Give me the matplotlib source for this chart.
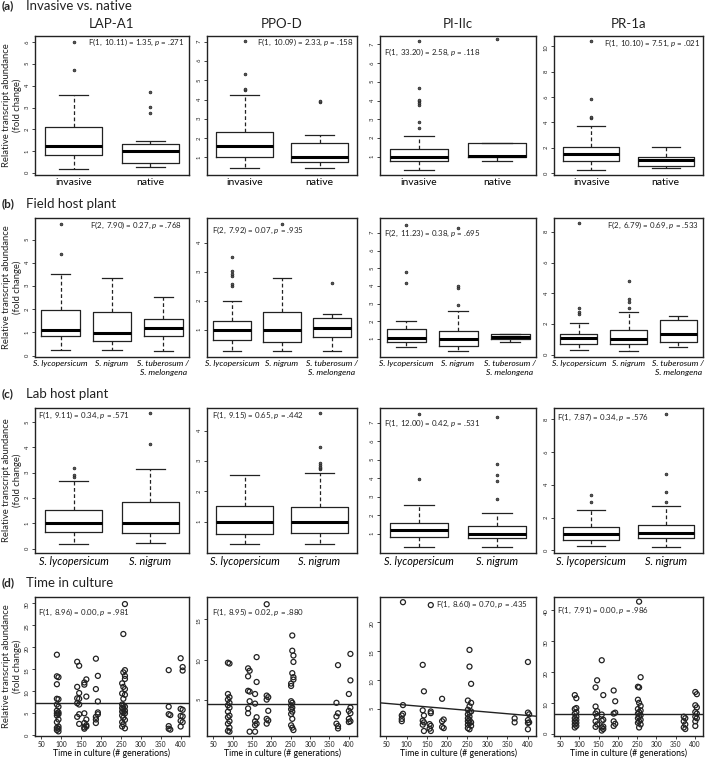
"""
Transcript abundance of four defence genes: box plots per group and
scatter against time in culture.
"""

import matplotlib
matplotlib.use('Agg')
import matplotlib.pyplot as plt

plt.rcParams['font.family'] = ['Lato', 'DejaVu Sans']
plt.rcParams['mathtext.fontset'] = 'custom'
plt.rcParams['mathtext.rm'] = 'Lato'
plt.rcParams['mathtext.it'] = 'Lato:italic'

W, H = 709, 758

genes = ['LAP-A1', 'PPO-D', 'PI-IIc', 'PR-1a']

# box stats per group: whisker low, q1, median, q3, whisker high
a_groups = ['invasive', 'native']
a_boxes = [
    [[0.18, 0.82, 1.25, 2.10, 3.57], [0.26, 0.44, 0.99, 1.35, 1.47]],
    [[0.43, 1.03, 1.57, 2.34, 4.22], [0.43, 0.74, 1.02, 1.77, 2.17]],
    [[0.27, 0.76, 1.00, 1.42, 2.09], [0.78, 0.96, 1.05, 1.73, 1.73]],
    [[0.26, 0.97, 1.50, 2.10, 3.76], [0.40, 0.60, 1.05, 1.32, 2.08]],
]
a_out = [
    [[4.71, 6.03], [2.74, 3.02, 3.72]],
    [[4.48, 4.57, 5.34, 7.02], [3.85, 3.9]],
    [[2.51, 2.87, 3.76, 3.85, 3.95, 4.04, 4.69, 7.18], [7.29]],
    [[4.35, 4.45, 5.87, 10.42], []],
]
a_stats = [('1, 10.11', '1.35', '.271'), ('1, 10.09', '2.33', '.158'),
           ('1, 33.20', '2.58', '.118'), ('1, 10.10', '7.51', '.021')]

b_groups = ['S. lycopersicum', 'S. nigrum', 'S. tuberosum /\nS. melongena']
b_boxes = [
    [[0.23, 0.83, 1.11, 1.97, 3.50], [0.26, 0.64, 0.97, 1.86, 3.33],
     [0.19, 0.83, 1.19, 1.57, 2.51]],
    [[0.29, 0.66, 1.00, 1.31, 2.00], [0.29, 0.60, 1.00, 1.61, 2.77],
     [0.29, 0.75, 1.06, 1.40, 1.55]],
    [[0.56, 0.85, 1.04, 1.59, 2.02], [0.30, 0.61, 1.00, 1.46, 2.56],
     [0.85, 1.02, 1.13, 1.26, 1.28]],
    [[0.32, 0.71, 1.08, 1.36, 2.05], [0.22, 0.71, 1.04, 1.58, 2.81],
     [0.48, 0.80, 1.36, 2.27, 2.53]],
]
b_out = [
    [[4.37, 5.69], [], []],
    [[2.50, 2.57, 2.86, 2.94, 3.02, 3.52], [4.65], [2.60]],
    [[4.15, 4.78, 7.43], [2.94, 3.89, 4.00, 7.30], []],
    [[2.64, 2.81, 3.07, 8.56], [3.07, 3.46, 3.60, 4.80], []],
]
b_stats = [('2, 7.90', '0.27', '.768'), ('2, 7.92', '0.07', '.935'),
           ('2, 11.23', '0.38', '.695'), ('2, 6.79', '0.69', '.533')]

c_groups = ['S. lycopersicum', 'S. nigrum']
c_boxes = [
    [[0.19, 0.67, 1.01, 1.53, 2.69], [0.23, 0.63, 1.03, 1.84, 3.16]],
    [[0.26, 0.60, 1.00, 1.51, 2.54], [0.26, 0.63, 1.00, 1.47, 2.60]],
    [[0.32, 0.85, 1.23, 1.61, 2.54], [0.30, 0.78, 1.00, 1.43, 2.12]],
    [[0.25, 0.63, 0.99, 1.41, 2.45], [0.19, 0.74, 1.05, 1.52, 2.72]],
]
c_out = [
    [[2.84, 2.90, 3.20], [4.13, 5.36]],
    [[], [2.72, 2.76, 2.80, 2.86, 2.92, 3.47, 4.60]],
    [[3.98, 7.47], [2.91, 3.88, 4.16, 4.80, 7.32]],
    [[2.93, 3.35], [2.95, 3.59, 4.64, 8.33]],
]
c_stats = [('1, 9.11', '0.34', '.571'), ('1, 9.15', '0.65', '.442'),
           ('1, 12.00', '0.42', '.531'), ('1, 7.87', '0.34', '.576')]

# (d) fold change by generations in culture
lap_time = {
    89: [18.3, 13.4, 11.6, 8.3, 7.0, 5.6, 5.0, 4.5, 3.0, 1.7, 1.2],
    93: [13.2, 8.2, 6.5, 5.2, 4.8, 3.6, 2.0, 1.5, 0.9],
    140: [16.7, 11.0, 8.4, 7.3, 4.2],
    145: [15.8, 9.6, 8.3, 7.0, 4.8, 2.6],
    158: [12.0, 11.5, 5.0, 2.8, 1.8, 1.5],
    163: [12.7, 8.8, 3.6, 2.3, 2.0],
    187: [17.4, 10.5, 4.2, 3.6, 2.8],
    192: [13.5, 7.7, 5.2, 4.8],
    253: [11.8, 9.5, 7.0, 6.2, 5.4, 4.5, 3.0, 2.0],
    256: [23.0, 14.3, 11.0, 8.3, 6.8, 6.0, 5.2, 4.0, 2.5],
    260: [29.8, 14.8, 13.5, 12.8, 10.5, 9.2, 6.5, 5.6, 5.0, 3.5, 1.6],
    370: [14.8, 6.5, 4.8, 2.1, 1.5],
    374: [4.6, 1.3],
    400: [17.5, 6.0, 4.4, 3.3, 2.0],
    405: [15.5, 14.7, 5.8, 4.3, 3.0],
}
ppo_time = {
    88: [9.6, 5.7, 5.0, 4.3, 3.5, 2.8, 2.0, 1.1],
    92: [9.5, 5.3, 4.6, 4.0, 3.0, 2.3, 1.5, 1.0],
    140: [8.9, 7.9, 6.1, 3.9, 3.3],
    144: [8.6, 6.0, 4.8, 1.0],
    158: [5.7, 4.5, 2.3, 1.8, 1.0],
    162: [10.3, 7.2, 2.8, 2.0],
    188: [16.9, 5.5, 5.0, 2.6, 2.0],
    192: [5.3, 3.6, 2.4],
    251: [7.0, 6.7, 4.8, 4.3, 3.8, 3.2, 1.8],
    254: [13.0, 11.1, 8.3, 4.6, 4.0, 3.5, 2.6, 1.5],
    257: [10.5, 9.7, 7.8, 7.5, 1.2],
    368: [4.6, 2.9, 2.0],
    372: [9.3, 3.3, 1.7, 1.4],
    400: [5.7, 3.6, 2.6, 2.2],
    404: [10.7, 7.4, 4.0, 3.3, 2.3],
}
pi_time = {
    88: [3.8, 3.2, 2.8],
    91: [23.5, 5.6, 4.1],
    140: [12.6, 4.7, 2.9, 2.2],
    143: [8.0, 3.8, 2.6, 1.1],
    157: [2.3, 1.5],
    160: [23.0, 4.5, 4.2, 2.0, 1.1],
    188: [6.7, 2.8, 1.8],
    192: [3.1, 1.6],
    252: [6.4, 4.8, 4.0, 3.3, 2.8, 2.2, 1.6],
    256: [15.2, 12.3, 5.4, 4.3, 3.6, 3.0, 2.5, 1.4],
    260: [9.3, 6.0, 4.5, 2.6, 2.0],
    368: [3.3, 2.6],
    401: [13.1, 4.3, 3.0, 2.5, 1.4],
    404: [4.0, 2.6],
}
pr_time = {
    88: [12.5, 8.0, 6.5, 5.0, 4.0, 3.0, 2.0],
    92: [11.5, 8.3, 7.0, 5.5, 4.5, 3.5, 2.5],
    142: [15.0, 8.8, 6.5, 4.0, 2.2],
    146: [17.3, 7.3, 5.5, 3.0],
    158: [23.8, 6.2, 4.2, 2.0, 1.0],
    162: [12.5, 4.5, 2.3, 1.5],
    189: [14.0, 6.5, 4.0, 2.5],
    193: [10.5, 6.8, 3.2],
    252: [15.2, 11.0, 8.0, 6.5, 5.0, 3.5],
    255: [42.8, 15.0, 10.0, 7.0, 5.5, 4.0, 2.0],
    259: [18.3, 9.0, 7.5, 6.0, 4.5, 3.0],
    371: [5.5, 4.0, 2.0],
    375: [5.0, 3.0, 1.5],
    401: [13.5, 9.2, 7.0, 5.5, 4.0, 2.5],
    405: [12.8, 8.5, 6.5, 5.0],
}
d_times = [lap_time, ppo_time, pi_time, pr_time]
# regression line: intercept, slope
d_fit = [(7.4, 0.0), (4.5, 0.0), (6.2, -0.006), (6.3, 0.0)]
d_stats = [('1, 8.96', '0.00', '.981'), ('1, 8.95', '0.02', '.880'),
           ('1, 8.60', '0.70', '.435'), ('1, 7.91', '0.00', '.986')]

# layout (pixels)
cols = [(35, 189), (207, 357), (380, 536), (554, 703)]
rows = [(36, 175), (218, 357), (408, 553), (597, 736)]

ylims = [
    [(-0.09, 6.29), (0.09, 7.29), (0.02, 7.45), (-0.13, 10.8)],
    [(-0.06, 5.93), (0.07, 4.85), (-0.02, 7.85), (-0.15, 8.9)],
    [(-0.17, 5.56), (-0.04, 4.75), (-0.02, 7.79), (-0.17, 8.7)],
    [(-0.15, 31.4), (0.46, 17.8), (0.23, 24.4), (-0.76, 44.3)],
]
yticks = [
    [range(0, 7), range(1, 8), range(1, 8), range(0, 11, 2)],
    [range(0, 6), range(1, 5), range(1, 8), range(0, 9, 2)],
    [range(0, 6), range(1, 5), range(1, 8), range(0, 9, 2)],
    [range(0, 31, 5), range(5, 16, 5), range(5, 21, 5), range(0, 41, 10)],
]
stat_pos = [
    [(184, 42, 'right'), (353, 42, 'right'), (384, 52, 'left'), (700, 43, 'right')],
    [(182, 225, 'right'), (212, 230, 'left'), (384, 233, 'left'), (699, 225, 'right')],
    [(38, 415, 'left'), (212, 415, 'left'), (384, 423, 'left'), (557, 417, 'left')],
    [(38, 612, 'left'), (212, 612, 'left'), (528, 604, 'right'), (557, 610, 'left')],
]

INK = '#222222'


def fx(x):
    return x / W


def fy(y):
    return 1 - y / H


def add_ax(fig, col, row):
    left, right = cols[col]
    top, bottom = rows[row]
    ax = fig.add_axes([fx(left), fy(bottom), (right - left) / W, (bottom - top) / H])
    for sp in ax.spines.values():
        sp.set_linewidth(1.0)
        sp.set_color(INK)
    ax.tick_params(axis='y', labelrotation=90, labelsize=4.2, length=2.5,
                   width=0.6, pad=1.2, colors=INK)
    return ax


def fstat(df, f, p):
    return 'F($\\mathit{' + df.replace(' ', '\\ ') + '}$) = ' + f + \
        ', $\\mathit{p}$ = ' + p


def draw_boxes(ax, boxes, outs, labels, fsize):
    stats = []
    for b, o in zip(boxes, outs):
        stats.append(dict(whislo=b[0], q1=b[1], med=b[2], q3=b[3],
                          whishi=b[4], fliers=o))
    n = len(stats)
    ax.bxp(stats, positions=range(1, n + 1), widths=0.75, capwidths=0.375,
           boxprops=dict(color=INK, lw=0.9),
           whiskerprops=dict(color=INK, lw=0.9, ls=(0, (3, 2))),
           capprops=dict(color=INK, lw=0.9),
           medianprops=dict(color='black', lw=2.2, solid_capstyle='butt'),
           flierprops=dict(marker='o', ms=2.0, mfc='#555555', mec=INK, mew=0.5))
    ax.set_xlim(0.5, n + 0.5)
    ax.set_xticks(range(1, n + 1))
    ax.set_xticklabels(labels, fontsize=fsize,
                       style='normal' if labels[0] == 'invasive' else 'italic')
    ax.tick_params(axis='x', length=0, pad=2.5)


fig = plt.figure(figsize=(W / 100, H / 100), dpi=100)

box_rows = [(a_boxes, a_out, a_groups, 7.5), (b_boxes, b_out, b_groups, 6.1),
            (c_boxes, c_out, c_groups, 7.8)]
all_stats = [a_stats, b_stats, c_stats, d_stats]

for r in range(4):
    for c in range(4):
        ax = add_ax(fig, c, r)
        if r < 3:
            boxes, outs, labels, fs = box_rows[r]
            draw_boxes(ax, boxes[c], outs[c], labels, fs)
        else:
            data = d_times[c]
            for gen, vals in data.items():
                ax.scatter([gen] * len(vals), vals, s=13, facecolors='none',
                           edgecolors=INK, linewidths=0.9, zorder=3)
            b0, m = d_fit[c]
            ax.axline((0, b0), slope=m, color=INK, lw=1.0)
            ax.set_xlim(34, 421)
            ax.set_xticks(range(50, 401, 50))
            ax.tick_params(axis='x', labelsize=4.8, length=2.5, width=0.6,
                           pad=1.0, colors=INK)
            ax.set_xlabel('Time in culture (# generations)', fontsize=6.3,
                          labelpad=0.5)
        ax.set_ylim(ylims[r][c])
        ax.set_yticks(list(yticks[r][c]))
        x, y, ha = stat_pos[r][c]
        df, f, p = all_stats[r][c]
        fig.text(fx(x), fy(y), fstat(df, f, p), ha=ha, va='center',
                 fontsize=5.7, color=INK)

for c, g in enumerate(genes):
    fig.text(fx((cols[c][0] + cols[c][1]) / 2), fy(24), g, ha='center',
             va='center', fontsize=9.5, color=INK)

sections = [('(a)', 'Invasive vs. native', 6), ('(b)', 'Field host plant', 204),
            ('(c)', 'Lab host plant', 394), ('(d)', 'Time in culture', 583)]
for lab, title, y in sections:
    fig.text(fx(2), fy(y), lab, ha='left', va='center', fontsize=8.5,
             fontweight='bold', color=INK)
    fig.text(fx(26), fy(y), title, ha='left', va='center', fontsize=9.5,
             color=INK)

for top, bottom in rows:
    fig.text(fx(12), fy((top + bottom) / 2),
             'Relative transcript abundance\n(fold change)', rotation=90,
             ha='center', va='center', multialignment='center', fontsize=6.8,
             color=INK, linespacing=1.15)

fig.savefig('out.png', dpi=100)
